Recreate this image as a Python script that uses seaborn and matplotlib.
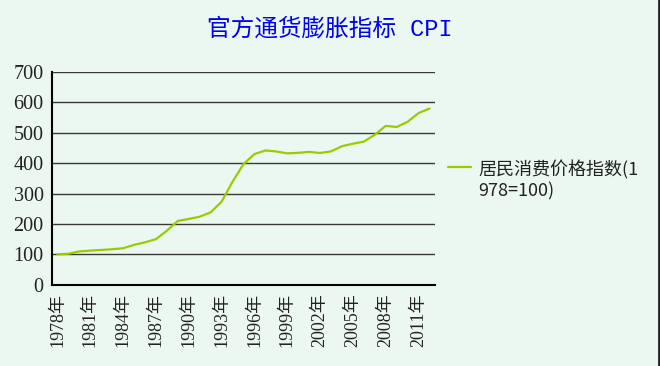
"""
官方通货膨胀指标 CPI 折线图
"""
import matplotlib
matplotlib.use("Agg")
import matplotlib.pyplot as plt
import pandas as pd
import seaborn as sns

years = list(range(1978, 2013))
cpi = [100.0, 101.9, 109.5, 112.2, 114.4, 116.7, 119.9, 131.1, 139.6, 149.8,
       177.9, 209.9, 216.4, 223.8, 238.1, 273.1, 339.0, 396.9, 429.9, 441.9,
       438.4, 432.2, 434.0, 437.0, 433.5, 438.7, 455.8, 464.0, 471.0, 493.6,
       522.7, 519.0, 536.1, 565.0, 579.7]
series_name = "居民消费价格指数(1\n978=100)"
title = "官方通货膨胀指标 CPI"
y_ticks = [0, 100, 200, 300, 400, 500, 600, 700]

bg = "#EBF8F1"
sns.set_style("white")
plt.rcParams["font.family"] = ["Noto Sans CJK SC", "DejaVu Sans"]

df = pd.DataFrame({"idx": range(len(years)), "cpi": cpi})

fig = plt.figure(figsize=(6.6, 3.66), dpi=100, facecolor=bg)
ax = fig.add_axes([52 / 660, 1 - 284.7 / 366, (435 - 52) / 660, (284.7 - 72) / 366])
ax.set_facecolor(bg)

for v in y_ticks[1:]:
    ax.axhline(v, color="#3a3a3a", lw=1.0, zorder=1)

sns.lineplot(data=df, x="idx", y="cpi", ax=ax, color="#99CC00", lw=1.6,
             label=series_name, zorder=3)

ax.set_xlim(-0.5, len(years) - 0.5)
ax.set_ylim(0, 700)
ax.set_yticks(y_ticks)
ax.set_yticklabels([str(v) for v in y_ticks], family=["Liberation Serif"], fontsize=14.5,
                   color="#222222")
ax.tick_params(axis="y", length=0, pad=6)

label_idx = list(range(0, len(years), 3))
ax.set_xticks(label_idx)
ax.set_xticklabels([f"{years[i]}年" for i in label_idx], rotation=90, fontsize=13,
                   family=["Liberation Serif", "Noto Sans CJK SC"], color="#222222")
ax.set_xticks([i + 0.5 for i in range(len(years))], minor=True)
ax.tick_params(axis="x", which="major", length=0, pad=6)
ax.tick_params(axis="x", which="minor", direction="in", length=5, width=1.2, color="black")
ax.set_xlabel("")
ax.set_ylabel("")

for s in ["top", "right"]:
    ax.spines[s].set_visible(False)
for s in ["left", "bottom"]:
    ax.spines[s].set_color("black")
    ax.spines[s].set_linewidth(1.5)

leg = ax.legend(loc="center left", bbox_to_anchor=(1.0, 0.49), frameon=False,
                fontsize=13, handlelength=1.3, handletextpad=0.4, borderaxespad=0.3)
for t in leg.get_texts():
    t.set_color("#222222")
# handle next to the first text line, like the original
for col in leg._legend_handle_box.get_children():
    for row in col.get_children():
        row.align = "top"

fig.text(0.5, 0.92, title, ha="center", va="center", fontsize=17, color="#0000EE",
         family=["Liberation Mono", "Noto Sans CJK SC"])

fig.add_artist(plt.Line2D([0.998, 0.998], [0, 1], transform=fig.transFigure,
                          color="#222222", lw=2))

fig.savefig("out.png", dpi=100, facecolor=bg)
